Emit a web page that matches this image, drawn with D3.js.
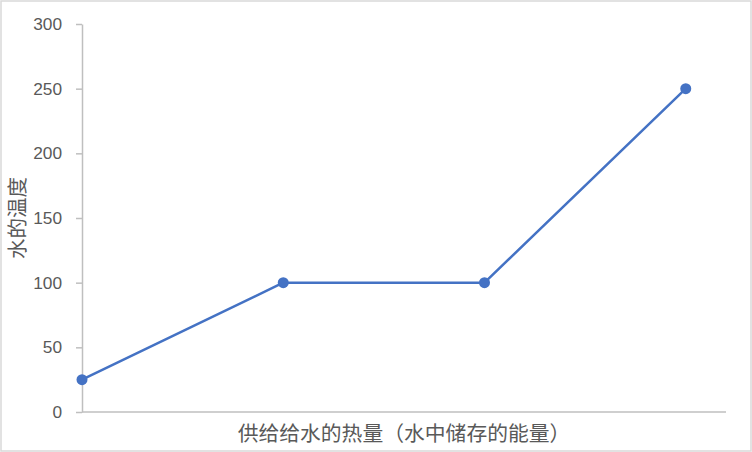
<!DOCTYPE html>
<html>
<head>
<meta charset="utf-8">
<script src="https://cdn.jsdelivr.net/npm/d3@7"></script>
<style>
  body { margin: 0; background: #fff; }
  svg { display: block; font-family: "Noto Sans", "Noto Sans CJK SC", sans-serif; }
</style>
</head>
<body>
<div id="chart"></div>
<script>
// Data
const steps = [0, 1, 2, 3];            // heat supplied (no labels shown)
const temps = [25, 100, 100, 250];      // water temperature
const yTicks = [0, 50, 100, 150, 200, 250, 300];
const xTitle = "供给给水的热量（水中储存的能量）";
const yTitle = "水的温度";

const width = 752, height = 452;
const margin = { top: 24, right: 26, bottom: 40, left: 82 };
const innerW = width - margin.left - margin.right;
const innerH = height - margin.top - margin.bottom;

const svg = d3.select("#chart").append("svg")
  .attr("width", width)
  .attr("height", height);

// outer chart border
svg.append("rect")
  .attr("x", 1).attr("y", 1)
  .attr("width", width - 2).attr("height", height - 2)
  .attr("fill", "#fff")
  .attr("stroke", "#d9d9d9")
  .attr("stroke-width", 1.5);

const chart = svg.append("g")
  .attr("transform", `translate(${margin.left},${margin.top})`);

const xScale = d3.scaleLinear().domain([0, 3.2]).range([0, innerW]);
const yScale = d3.scaleLinear().domain([0, 300]).range([innerH, 0]);

// y axis
const yAxis = d3.axisLeft(yScale)
  .tickValues(yTicks)
  .tickSize(6)
  .tickSizeOuter(0)
  .tickPadding(14);

const yAxisG = chart.append("g").call(yAxis);
yAxisG.select(".domain").attr("stroke", "#bfbfbf").attr("stroke-width", 1.5);
yAxisG.selectAll(".tick line").attr("stroke", "#bfbfbf").attr("stroke-width", 1.5);
yAxisG.selectAll(".tick text")
  .attr("fill", "#595959")
  .style("font-size", "17.3px");

// x axis (line only)
chart.append("line")
  .attr("x1", 0).attr("x2", innerW)
  .attr("y1", yScale(0)).attr("y2", yScale(0))
  .attr("stroke", "#bfbfbf")
  .attr("stroke-width", 1.5);

// series line
const line = d3.line()
  .x((d, i) => xScale(steps[i]))
  .y(d => yScale(d));

chart.append("path")
  .datum(temps)
  .attr("fill", "none")
  .attr("stroke", "#4472c4")
  .attr("stroke-width", 2.5)
  .attr("stroke-linejoin", "round")
  .attr("d", line);

chart.selectAll(".point")
  .data(temps)
  .join("circle")
  .attr("class", "point")
  .attr("cx", (d, i) => xScale(steps[i]))
  .attr("cy", d => yScale(d))
  .attr("r", 5.5)
  .attr("fill", "#4472c4");

// axis titles
svg.append("text")
  .attr("x", 404)
  .attr("y", 441)
  .attr("text-anchor", "middle")
  .attr("fill", "#595959")
  .style("font-size", "20.8px")
  .text(xTitle);

svg.append("text")
  .attr("transform", `translate(25,218) rotate(-90)`)
  .attr("text-anchor", "middle")
  .attr("fill", "#595959")
  .style("font-size", "20.5px")
  .text(yTitle);
</script>
</body>
</html>
